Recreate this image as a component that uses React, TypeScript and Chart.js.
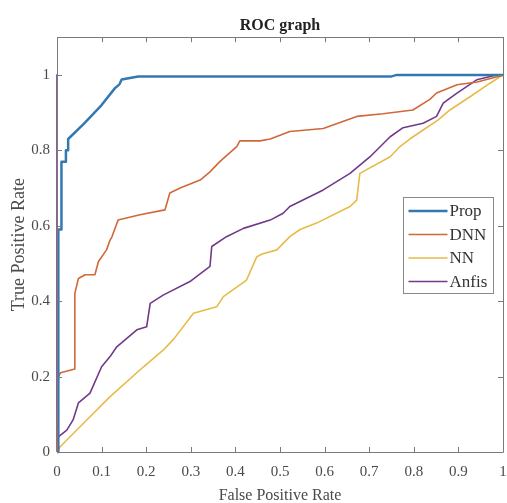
import React, { useEffect, useRef } from "react";
import { Chart, registerables } from "chart.js";

Chart.register(...registerables);

const seriesNames = ["Prop", "DNN", "NN", "Anfis"];
const seriesColors = ["#3578b0", "#d0683a", "#e6bb48", "#71398a"];
const seriesWidths = [2.5, 1.6, 1.6, 1.6];

const propFpr = [0, 0.003, 0.003, 0.01, 0.01, 0.02, 0.02, 0.025, 0.025, 0.06, 0.1, 0.13, 0.14, 0.145, 0.182, 0.75, 0.762, 1.0];
const propTpr = [0, 0, 0.59, 0.59, 0.77, 0.77, 0.8, 0.8, 0.83, 0.87, 0.92, 0.965, 0.975, 0.988, 0.996, 0.996, 1.0, 1.0];

const dnnFpr = [0, 0.003, 0.008, 0.04, 0.04, 0.048, 0.063, 0.085, 0.093, 0.111, 0.119, 0.123, 0.137, 0.186, 0.242, 0.253, 0.276, 0.321, 0.343, 0.365, 0.403, 0.41, 0.455, 0.478, 0.522, 0.597, 0.672, 0.731, 0.798, 0.836, 0.851, 0.897, 0.942, 0.987, 1];
const dnnTpr = [0, 0.2, 0.21, 0.22, 0.42, 0.46, 0.47, 0.47, 0.505, 0.536, 0.562, 0.57, 0.615, 0.629, 0.642, 0.687, 0.7, 0.721, 0.743, 0.77, 0.81, 0.825, 0.825, 0.83, 0.85, 0.858, 0.89, 0.897, 0.907, 0.935, 0.952, 0.974, 0.981, 0.995, 1];

const nnFpr = [0, 0.007, 0.05, 0.119, 0.194, 0.238, 0.262, 0.306, 0.358, 0.373, 0.425, 0.448, 0.46, 0.493, 0.522, 0.545, 0.582, 0.657, 0.672, 0.679, 0.747, 0.769, 0.791, 0.821, 0.854, 0.881, 0.926, 0.971, 1];
const nnTpr = [0, 0.014, 0.065, 0.147, 0.226, 0.27, 0.3, 0.368, 0.385, 0.412, 0.456, 0.518, 0.525, 0.536, 0.571, 0.59, 0.607, 0.651, 0.668, 0.739, 0.783, 0.81, 0.83, 0.854, 0.88, 0.907, 0.942, 0.978, 1];

const anfisFpr = [0, 0, 0, 0.003, 0.022, 0.036, 0.048, 0.074, 0.1, 0.119, 0.134, 0.179, 0.201, 0.209, 0.238, 0.298, 0.343, 0.347, 0.38, 0.418, 0.478, 0.507, 0.522, 0.597, 0.657, 0.702, 0.747, 0.776, 0.821, 0.851, 0.866, 0.896, 0.941, 0.986, 1];
const anfisTpr = [0, 1.0, 0.03, 0.04, 0.058, 0.085, 0.13, 0.156, 0.226, 0.253, 0.279, 0.324, 0.332, 0.394, 0.416, 0.452, 0.492, 0.545, 0.571, 0.593, 0.615, 0.633, 0.651, 0.695, 0.739, 0.783, 0.836, 0.86, 0.872, 0.89, 0.925, 0.951, 0.987, 1, 1];

const xTickValues = [0, 0.1, 0.2, 0.3, 0.4, 0.5, 0.6, 0.7, 0.8, 0.9, 1];
const yTickValues = [0, 0.2, 0.4, 0.6, 0.8, 1];

const titleText = "ROC graph";
const xTitle = "False Positive Rate";
const yTitle = "True Positive Rate";

const SERIF = "'Liberation Serif', 'Times New Roman', serif";

function toPoints(xs: number[], ys: number[]) {
  return xs.map((x, i) => ({ x, y: ys[i] }));
}

const fmt = (v: number) => String(Math.round(v * 10) / 10);

const frameAndLegend = {
  id: "frameAndLegend",
  afterDraw(chart: any) {
    const { ctx, chartArea } = chart;
    const xs = chart.scales.x;
    const ys = chart.scales.y;
    const { left, right, top, bottom } = chartArea;
    ctx.save();
    ctx.strokeStyle = "#7a7a7a";
    ctx.lineWidth = 1;
    ctx.beginPath();
    ctx.rect(Math.round(left) + 0.5, Math.round(top) + 0.5, Math.round(right - left), Math.round(bottom - top));
    ctx.stroke();
    const tl = 5;
    ctx.beginPath();
    xTickValues.forEach((v) => {
      const px = Math.round(xs.getPixelForValue(v)) + 0.5;
      ctx.moveTo(px, bottom);
      ctx.lineTo(px, bottom - tl);
      ctx.moveTo(px, top);
      ctx.lineTo(px, top + tl);
    });
    yTickValues.forEach((v) => {
      const py = Math.round(ys.getPixelForValue(v)) + 0.5;
      ctx.moveTo(left, py);
      ctx.lineTo(left + tl, py);
      ctx.moveTo(right, py);
      ctx.lineTo(right - tl, py);
    });
    ctx.stroke();

    // legend
    const bw = 90;
    const bh = 96;
    const bx = Math.round(right - 100) + 0.5;
    const by = Math.round(top + 160) + 0.5;
    ctx.fillStyle = "#ffffff";
    ctx.fillRect(bx, by, bw, bh);
    ctx.strokeStyle = "#8a8a8a";
    ctx.strokeRect(bx, by, bw, bh);
    ctx.font = `17px ${SERIF}`;
    ctx.textBaseline = "middle";
    ctx.textAlign = "left";
    chart.data.datasets.forEach((ds: any, i: number) => {
      const cy = by + 13.5 + i * 23.5;
      ctx.strokeStyle = ds.borderColor;
      ctx.lineWidth = ds.borderWidth;
      ctx.beginPath();
      ctx.moveTo(bx + 5, cy);
      ctx.lineTo(bx + 44, cy);
      ctx.stroke();
      ctx.fillStyle = "#333333";
      ctx.fillText(ds.label, bx + 46, cy + 1);
    });
    ctx.restore();
  },
};

export default function App() {
  const ref = useRef<HTMLCanvasElement>(null);
  useEffect(() => {
    document.body.style.margin = "0";
    const canvas = ref.current;
    if (!canvas) return;
    const series = [
      toPoints(propFpr, propTpr),
      toPoints(dnnFpr, dnnTpr),
      toPoints(nnFpr, nnTpr),
      toPoints(anfisFpr, anfisTpr),
    ];
    const chart = new Chart(canvas, {
      type: "line",
      data: {
        datasets: seriesNames.map((name, i) => ({
          label: name,
          data: series[i],
          borderColor: seriesColors[i],
          backgroundColor: seriesColors[i],
          borderWidth: seriesWidths[i],
          pointRadius: 0,
          tension: 0,
          fill: false,
          clip: false as any,
          borderJoinStyle: "round" as const,
        })),
      },
      options: {
        responsive: false,
        animation: false,
        layout: { padding: { left: 0, right: 4, top: 0, bottom: 0 } },
        plugins: {
          legend: { display: false },
          tooltip: { enabled: false },
          title: {
            display: true,
            text: titleText,
            fullSize: false,
            color: "#222222",
            font: { family: SERIF, size: 16, weight: "bold" },
            padding: { top: 16, bottom: 2 },
          },
        },
        scales: {
          x: {
            type: "linear",
            position: "bottom",
            min: 0,
            max: 1,
            grid: { display: false, drawTicks: false },
            border: { display: false },
            afterBuildTicks: (s: any) => {
              s.ticks = xTickValues.map((v) => ({ value: v }));
            },
            ticks: {
              autoSkip: false,
              maxRotation: 0,
              padding: 11,
              color: "#4a4a4a",
              font: { family: SERIF, size: 15 },
              callback: (v: any) => fmt(Number(v)),
            },
            title: {
              display: true,
              text: xTitle,
              color: "#4a4a4a",
              font: { family: SERIF, size: 16 },
              padding: { top: 0, bottom: -2 },
            },
            afterFit: (s: any) => {
              s.height = 51;
              s.paddingLeft = 0;
              s.paddingRight = 0;
            },
          },
          y: {
            type: "linear",
            min: 0,
            max: 1.1,
            grid: { display: false, drawTicks: false },
            border: { display: false },
            afterBuildTicks: (s: any) => {
              s.ticks = yTickValues.map((v) => ({ value: v }));
            },
            ticks: {
              includeBounds: false,
              autoSkip: false,
              padding: 7,
              color: "#4a4a4a",
              font: { family: SERIF, size: 15 },
              callback: (v: any) => fmt(Number(v)),
            },
            title: {
              display: true,
              text: yTitle,
              color: "#4a4a4a",
              font: { family: SERIF, size: 18 },
              padding: { top: 8, bottom: 0 },
            },
            afterFit: (s: any) => {
              s.width = 57;
              s.paddingTop = 0;
              s.paddingBottom = 0;
            },
          },
        },
      },
      plugins: [frameAndLegend],
    });
    return () => chart.destroy();
  }, []);
  return (
    <div style={{ width: 507, height: 503 }}>
      <canvas ref={ref} width={507} height={503} style={{ display: "block" }} />
    </div>
  );
}
